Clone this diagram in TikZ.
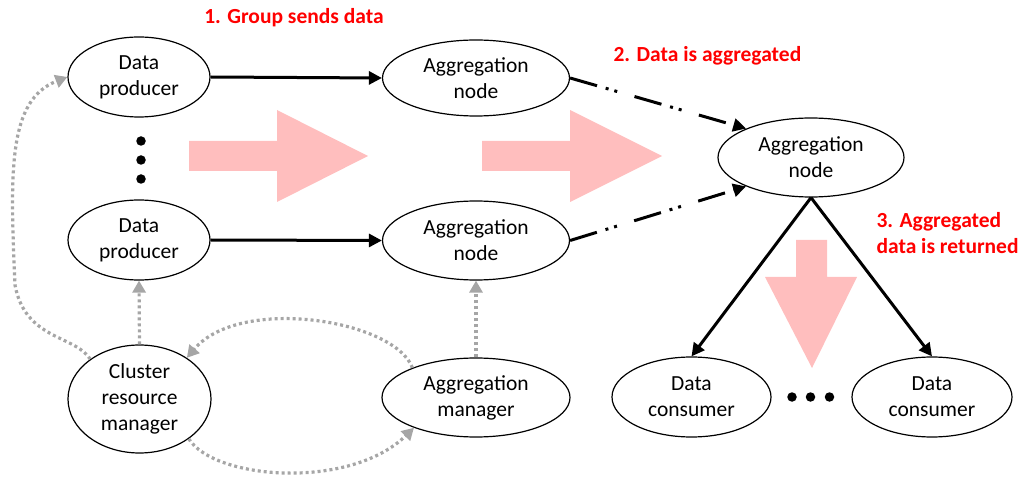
\documentclass[tikz,border=0pt]{standalone}
\usepackage{fontspec}
\setmainfont{Carlito}
\usetikzlibrary{shapes.geometric,arrows.meta}
\definecolor{pinkfill}{HTML}{FFBEBE}
\definecolor{dotgray}{HTML}{A6A6A6}
\definecolor{labred}{HTML}{FF0000}
\tikzset{
  ell/.style={ellipse,draw=black,line width=1.2pt,inner sep=0pt,align=center,
    font=\fontsize{21.5}{26}\selectfont},
  blackarrow/.style={line width=3pt,-{Triangle[length=13pt,width=13pt]}},
  dashdotarrow/.style={line width=3pt,dash pattern=on 28pt off 9pt on 3pt off 6pt on 3pt off 18pt,-{Triangle[length=13pt,width=13pt]}},
  grayarrow/.style={line width=3.2pt,dotgray,dash pattern=on 3pt off 3pt,-{Triangle[length=12pt,width=13pt]}},
  steplabel/.style={text=labred,font=\fontsize{21.5}{26.5}\selectfont\bfseries,align=left},
  bigarrow/.style={fill=pinkfill,draw=none},
  bulletdot/.style={circle,fill=black,inner sep=0pt,minimum size=9.5pt}
}
\begin{document}
\begin{tikzpicture}[x=1pt,y=-1pt]
\useasboundingbox (0,0) rectangle (1023,478);
% pink arrows
\fill[bigarrow] (189,141) -- (277,141) -- (277,110) -- (368,156) -- (277,202) -- (277,171) -- (189,171) -- cycle;
\fill[bigarrow] (482,141) -- (570,141) -- (570,110) -- (662,156) -- (570,202) -- (570,171) -- (482,171) -- cycle;
\fill[bigarrow] (796,240) -- (827,240) -- (827,277) -- (857,277) -- (812,368) -- (765,277) -- (796,277) -- cycle;
% nodes
\node[ell,minimum width=142pt,minimum height=80pt] (dp1) at (139,77) {Data\\producer};
\node[ell,minimum width=142pt,minimum height=80pt] (dp2) at (139,240) {Data\\producer};
\node[ell,minimum width=187pt,minimum height=76pt] (an1) at (476,78) {Aggregation\\node};
\node[ell,minimum width=187pt,minimum height=79pt] (an2) at (476,240.5) {Aggregation\\node};
\node[ell,minimum width=186pt,minimum height=79pt] (an3) at (811,157.5) {Aggregation\\node};
\node[ell,minimum width=143pt,minimum height=108pt] (crm) at (139.5,399) {Cluster\\resource\\manager};
\node[ell,minimum width=188pt,minimum height=79pt] (am) at (476,397.5) {Aggregation\\manager};
\node[ell,minimum width=159pt,minimum height=80pt] (dc1) at (691.5,397) {Data\\consumer};
\node[ell,minimum width=160pt,minimum height=80pt] (dc2) at (932,397) {Data\\consumer};
% dots
\node[bulletdot] (v1) at (141,141) {};
\node[bulletdot] (v2) at (141,160) {};
\node[bulletdot] (v3) at (141,179) {};
\node[bulletdot] (h1) at (792,397) {};
\node[bulletdot] (h2) at (810.5,397) {};
\node[bulletdot] (h3) at (829.5,397) {};
% labels
\node[steplabel] (l1) at (294,18) {1. Group sends data};
\node[steplabel,anchor=west] (l2) at (610,56) {2. Data is aggregated};
\node[steplabel,anchor=west] (l3) at (873,233) {3. Aggregated\\data is returned};
% black arrows
\draw[blackarrow] (dp1.east) -- (an1.west);
\draw[blackarrow] (dp2.east) -- (an2.west);
\draw[dashdotarrow] (an1.east) -- (an3.156);
\draw[dashdotarrow] (an2.east) -- (an3.204);
\draw[blackarrow] (an3.south) -- (dc1.north);
\draw[blackarrow] (an3.south) -- (dc2.north);
% gray arrows
\draw[grayarrow] (crm.north) -- (dp2.south);
\draw[grayarrow] (am.north) -- (an2.south);
\draw[grayarrow] (am.155) .. controls (395,320) and (240,295) .. (crm.41);
\draw[grayarrow] (crm.-39) .. controls (215,480) and (350,490) .. (am.206);
\draw[grayarrow] (crm.141) .. controls (75,335) and (25,340) .. (15,285) .. controls (10,170) and (8,100) .. (dp1.west);
\end{tikzpicture}
\end{document}
